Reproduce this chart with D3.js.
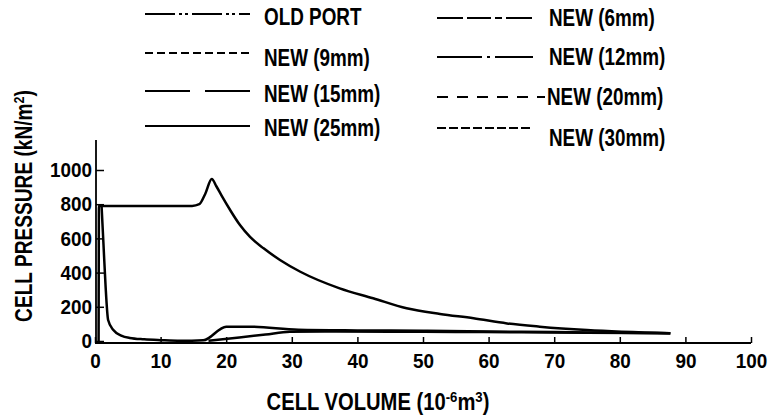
<!DOCTYPE html>
<html>
<head>
<meta charset="utf-8">
<script src="https://cdnjs.cloudflare.com/ajax/libs/d3/7.8.5/d3.min.js"></script>
<style>
  body { margin: 0; background: #fff; }
  text { font-family: "Liberation Sans", Arial, sans-serif; font-weight: bold; fill: #000; }
</style>
</head>
<body>
<script>
// ---- data ----
var xTicks = [0, 10, 20, 30, 40, 50, 60, 70, 80, 90, 100];
var yTicks = [0, 200, 400, 600, 800, 1000];

var legendNames = ["OLD PORT", "NEW (6mm)", "NEW (9mm)", "NEW (12mm)",
                   "NEW (15mm)", "NEW (20mm)", "NEW (25mm)", "NEW (30mm)"];

// old port: upper loop (volume 1e-6 m3, pressure kN/m2)
var oldPortV = [0.55, 0.6, 1.5, 5, 10, 14.8, 15.9, 16.8, 17.8, 18.5, 19.3, 20.6, 22.1, 23.6, 25.7, 28.2, 31.3, 37.3, 42.4, 47.5, 52.6, 57.7, 62.8, 67.8, 75, 87.7];
var oldPortP = [0, 790, 790, 790, 790, 790, 800, 860, 947, 905, 850, 766, 678, 610, 542, 474, 405, 308, 250, 191, 158, 133, 103, 84, 64, 45];

// new ports: blow-down branch and fast rise
var newFastV = [1.0, 1.3, 1.6, 2.0, 2.8, 4, 5.3, 7.5, 10, 13, 16.5, 20, 23.6, 31, 40, 50, 60, 70, 80, 87.7];
var newFastP = [790, 560, 330, 123, 64, 32, 18, 10, 5, 1, 4, 84, 84, 66, 62, 60, 56, 52, 48, 45];

// new ports: slow rise
var newSlowV = [17.3, 22, 26, 29.7, 35, 45, 55, 65, 75, 87.7];
var newSlowP = [2, 21, 38, 54, 56, 54, 53, 51, 48, 45];

var W = 772, H = 419;
var svg = d3.select("body").append("svg").attr("width", W).attr("height", H);
svg.append("rect").attr("width", W).attr("height", H).attr("fill", "#fff");

var x = d3.scaleLinear().domain([0, 100]).range([95, 751]);
var y = d3.scaleLinear().domain([0, 1000]).range([341, 170]);
var axisY = 343;

// axes
var gx = svg.append("g").attr("transform", "translate(0," + axisY + ")")
  .call(d3.axisBottom(x).tickValues(xTicks).tickSizeInner(-6).tickSizeOuter(0).tickPadding(10));
gx.select(".domain").remove();
gx.selectAll("line").attr("stroke", "#000").attr("stroke-width", 1.5);
gx.selectAll("text").attr("font-size", 21).attr("fill", "#000");
svg.append("line").attr("x1", 95).attr("x2", x(100)).attr("y1", axisY).attr("y2", axisY)
  .attr("stroke", "#000").attr("stroke-width", 1.8);

var gy = svg.append("g").attr("transform", "translate(96,0)")
  .call(d3.axisLeft(y).tickValues(yTicks).tickFormat(d3.format("d"))
    .tickSizeInner(-8).tickSizeOuter(0).tickPadding(4));
gy.select(".domain").remove();
gy.selectAll("line").attr("stroke", "#000").attr("stroke-width", 1.5);
gy.selectAll("text").attr("font-size", 21).attr("fill", "#000");
svg.append("line").attr("x1", 96).attr("x2", 96).attr("y1", 140).attr("y2", axisY)
  .attr("stroke", "#000").attr("stroke-width", 1.8);

// squeeze single-run texts to mimic the narrow typeface of the original
function squeeze(sel, k) {
  sel.each(function() {
    var len = this.getComputedTextLength();
    d3.select(this).attr("textLength", len * k).attr("lengthAdjust", "spacingAndGlyphs");
  });
}
squeeze(gx.selectAll("text"), 0.9);
squeeze(gy.selectAll("text"), 0.9);

// axis titles (scaled as a whole so the superscripts keep their place)
function title(g, parts, target) {
  var t = g.append("text").attr("text-anchor", "middle").attr("font-size", 23);
  parts.forEach(function(p) {
    var s = t.append("tspan").text(p[0]);
    if (p[1]) s.attr("baseline-shift", "super").attr("font-size", 15);
  });
  var w = t.node().getBBox().width;
  t.attr("transform", "scale(" + (target / w) + ",1)");
}
var xg = svg.append("g").attr("transform", "translate(378,410)");
title(xg, [["CELL VOLUME (10"], ["-6", 1], ["m"], ["3", 1], [")"]], 223);
var yg = svg.append("g").attr("transform", "translate(32,206) rotate(-90)");
title(yg, [["CELL PRESSURE (kN/m"], ["2", 1], [")"]], 232);

// curves
var curves = [
  { v: oldPortV, p: oldPortP },
  { v: newFastV, p: newFastP },
  { v: newSlowV, p: newSlowP }
];
var line = d3.line()
  .x(function(d) { return x(d[0]); })
  .y(function(d) { return y(d[1]); })
  .curve(d3.curveMonotoneX);

svg.append("g").selectAll("path").data(curves).enter().append("path")
  .attr("d", function(c) { return line(c.v.map(function(v, i) { return [v, c.p[i]]; })); })
  .attr("fill", "none").attr("stroke", "#000").attr("stroke-width", 2.5)
  .attr("stroke-linejoin", "round");

// legend
var dashes = ["30,4,3,3,3,4", "26,4,24,4,7,4", "8,4", "45,5,3,5", "45,15", "11,9", null, "9,3"];
var legX = [[145, 250, 264], [437, 533, 549]];
var legY = [[14, 18], [53, 57], [91, 97], [126, 128]];
var legTextY = [[17, 18], [58, 57], [94, 97], [128, 138]];

var leg = svg.append("g").selectAll("g").data(legendNames).enter().append("g");
leg.append("line")
  .attr("x1", function(d, i) { return legX[i % 2][0]; })
  .attr("x2", function(d, i) { return i === 5 ? 545 : legX[i % 2][1]; })
  .attr("y1", function(d, i) { return legY[Math.floor(i / 2)][i % 2]; })
  .attr("y2", function(d, i) { return legY[Math.floor(i / 2)][i % 2]; })
  .attr("stroke", "#000").attr("stroke-width", 2.2)
  .attr("stroke-dasharray", function(d, i) { return dashes[i]; });
var legText = leg.append("text")
  .attr("x", function(d, i) { return i === 5 ? 547 : legX[i % 2][2]; })
  .attr("y", function(d, i) { return legTextY[Math.floor(i / 2)][i % 2]; })
  .attr("dy", "0.36em").attr("font-size", 23)
  .text(function(d) { return d; });
squeeze(legText, 0.82);
</script>
</body>
</html>
